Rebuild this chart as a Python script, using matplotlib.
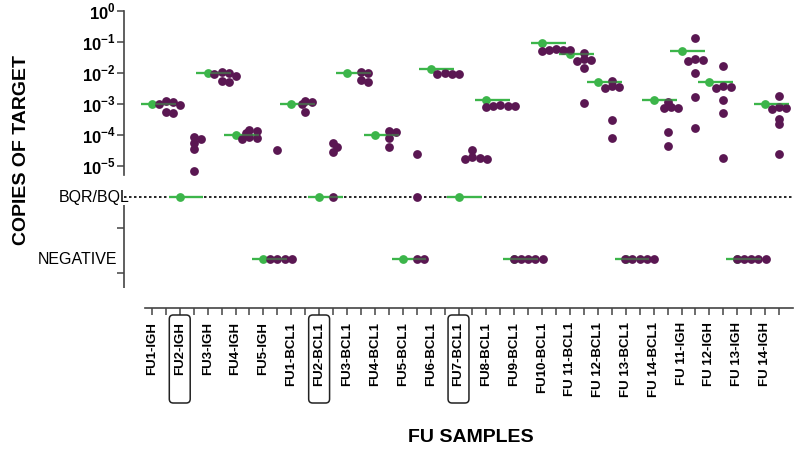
import numpy as np
import matplotlib
matplotlib.use("Agg")
import matplotlib.pyplot as plt
from matplotlib.patches import FancyBboxPatch
from matplotlib.ticker import NullLocator

plt.rcParams['font.family'] = ['Liberation Sans', 'DejaVu Sans']
plt.rcParams['mathtext.fontset'] = 'custom'
plt.rcParams['mathtext.rm'] = 'Liberation Sans'
plt.rcParams['mathtext.bf'] = 'Liberation Sans:bold'

# ---------------- data ----------------
samples = ["FU1-IGH", "FU2-IGH", "FU3-IGH", "FU4-IGH", "FU5-IGH",
           "FU1-BCL1", "FU2-BCL1", "FU3-BCL1", "FU4-BCL1", "FU5-BCL1",
           "FU6-BCL1", "FU7-BCL1", "FU8-BCL1", "FU9-BCL1", "FU10-BCL1",
           "FU 11-BCL1", "FU 12-BCL1", "FU 13-BCL1", "FU 14-BCL1",
           "FU 11-IGH", "FU 12-IGH", "FU 13-IGH", "FU 14-IGH"]
boxed = ["FU2-IGH", "FU2-BCL1", "FU7-BCL1"]

# reference value per sample (green)
green = [1.0e-3, 'BQL', 9.8e-3, 1.0e-4, 'NEG',
         1.0e-3, 'BQL', 9.8e-3, 1.0e-4, 'NEG',
         1.3e-2, 'BQL', 1.35e-3, 'NEG', 9.1e-2,
         4.0e-2, 5.2e-3, 'NEG', 1.3e-3,
         5.1e-2, 5.0e-3, 'NEG', 1.0e-3]

# replicate values per sample (purple)
purple = [
    [1.26e-3, 1.12e-3, 1.0e-3, 9.5e-4, 5.4e-4, 5.2e-4],
    [8.5e-5, 7.2e-5, 5.4e-5, 3.5e-5, 6.9e-6],
    [1.07e-2, 1.02e-2, 9.3e-3, 8.1e-3, 5.4e-3, 5.3e-3],
    [1.5e-4, 1.3e-4, 1.17e-4, 8.5e-5, 7.8e-5, 7.2e-5],
    [3.3e-5, 'NEG', 'NEG', 'NEG', 'NEG'],
    [1.29e-3, 1.2e-3, 9.8e-4, 5.6e-4],
    [5.6e-5, 4.2e-5, 2.9e-5, 'BQL'],
    [1.07e-2, 1.02e-2, 5.9e-3, 5.2e-3],
    [1.38e-4, 1.29e-4, 8.1e-5, 4.2e-5],
    [2.5e-5, 'BQL', 'NEG', 'NEG'],
    [1.0e-2, 9.5e-3, 9.3e-3, 9.1e-3],
    [3.3e-5, 2.0e-5, 1.8e-5, 1.65e-5, 1.65e-5],
    [9.3e-4, 8.9e-4, 8.7e-4, 8.5e-4, 8.3e-4],
    ['NEG', 'NEG', 'NEG', 'NEG', 'NEG'],
    [5.8e-2, 5.6e-2, 5.5e-2, 5.4e-2, 5.3e-2],
    [4.3e-2, 2.8e-2, 2.6e-2, 2.5e-2, 1.5e-2, 1.05e-3],
    [5.6e-3, 3.8e-3, 3.5e-3, 3.4e-3, 3.0e-4, 7.8e-5],
    ['NEG', 'NEG', 'NEG', 'NEG', 'NEG'],
    [1.17e-3, 8.3e-4, 7.6e-4, 7.4e-4, 1.23e-4, 4.5e-5],
    [1.38e-1, 2.8e-2, 2.6e-2, 2.5e-2, 9.8e-3, 1.74e-3, 1.66e-4],
    [1.7e-2, 3.8e-3, 3.5e-3, 3.2e-3, 1.35e-3, 5.2e-4, 1.8e-5],
    ['NEG', 'NEG', 'NEG', 'NEG', 'NEG'],
    [1.8e-3, 7.9e-4, 7.4e-4, 7.1e-4, 3.2e-4, 2.2e-4, 2.4e-5],
]

major_ticks = [1e0, 1e-1, 1e-2, 1e-3, 1e-4, 1e-5]
major_labels = [r'10$^{\mathbf{0}}$', r'10$^{\mathbf{-1}}$', r'10$^{\mathbf{-2}}$',
                r'10$^{\mathbf{-3}}$', r'10$^{\mathbf{-4}}$', r'10$^{\mathbf{-5}}$']
special_pos = {'BQL': 1e-6, 'NEG': 1e-8}
special_labels = {'BQL': 'BQR/BQL', 'NEG': 'NEGATIVE'}

GREEN = '#3cb54a'
PURPLE = '#5a1752'

def val(v):
    return special_pos[v] if isinstance(v, str) else v

# ---------------- figure ----------------
fig = plt.figure(figsize=(8, 4.5), dpi=100)
ax = fig.add_axes([124/800, 1-308/450, 669/800, 297/450])
ax.set_yscale('log')
ax.set_xlim(-2, 46)
ax.set_ylim(10**-9.58, 1.0)

for s in ['top', 'right']:
    ax.spines[s].set_visible(False)
ax.spines['left'].set_bounds(10**-5.29, 1.0)
ax.spines['bottom'].set_bounds(-0.5, 46)
for s in ['left', 'bottom']:
    ax.spines[s].set_color('#444444')
    ax.spines[s].set_linewidth(1.2)
# lower segment of the broken y axis
ax.plot([-2, -2], [10**-6.26, 10**-8.94], color='#444444', lw=1.2,
        clip_on=False, solid_capstyle='butt')

# y ticks
ax.yaxis.set_minor_locator(NullLocator())
yt = major_ticks + [1e-7, 10**-8.45]
ax.set_yticks(yt)
ax.set_yticklabels(major_labels + ['', ''], fontsize=12, fontweight='bold')
ax.tick_params(axis='y', length=5, width=1.1, color='#444444', pad=1)

# x ticks
pos_x = np.arange(46)
ax.set_xticks(pos_x)
xl = []
for k in pos_x:
    xl.append(samples[k // 2] if (k % 2 == 0 and k // 2 < len(samples)) else '')
ax.set_xticklabels(xl, rotation=90, fontsize=9.5, fontweight='bold')
ax.tick_params(axis='x', length=5, width=1.1, color='#444444', pad=5)

# special category labels
for key in ['BQL', 'NEG']:
    off = 4 if key == 'BQL' else -5
    ax.annotate(special_labels[key], xy=(0, special_pos[key]),
                xycoords=('axes fraction', 'data'), xytext=(off, 0),
                textcoords='offset points', ha='right', va='center',
                fontsize=11.5, annotation_clip=False)

# dotted BQL line
ax.plot([-2, 46], [special_pos['BQL']] * 2, ls=(0, (1.5, 1.5)), color='black',
        lw=1.2, zorder=1, clip_on=False)

# ---------- swarm helper in display space ----------
fig.canvas.draw()
px_per_x = ax.transData.transform((1, 1))[0] - ax.transData.transform((0, 1))[0]
d = 8.0
min_d = 0.6 * d
step = 0.45 * d

def swarm(yvals_disp):
    placed = []
    offs = []
    order = np.argsort(-np.asarray(yvals_disp))
    res = np.zeros(len(yvals_disp))
    cands = [0.0]
    for k in range(1, 12):
        cands += [k * step, -k * step]
    for idx in order:
        y = yvals_disp[idx]
        for c in cands:
            ok = all((c - px) ** 2 + (y - py) ** 2 >= min_d ** 2 for px, py in placed)
            if ok:
                placed.append((c, y))
                res[idx] = c
                break
    return res / px_per_x

for i, name in enumerate(samples):
    xg = 2 * i
    xp = 2 * i + 1
    gv = val(green[i])
    pv = np.array([val(v) for v in purple[i]], dtype=float)
    # green line below
    ax.plot([xg - 0.8, xg + 1.7], [gv, gv], color=GREEN, lw=1.6, zorder=2,
            solid_capstyle='butt')
    ax.scatter([xg], [gv], s=40, color=GREEN, zorder=3, linewidths=0)
    ydisp = ax.transData.transform(np.column_stack([np.full(len(pv), xp), pv]))[:, 1]
    offs = swarm(ydisp)
    ax.scatter(xp + offs, pv, s=40, color=PURPLE, zorder=4, linewidths=0)
    # translucent line over the dots (appears greyish over purple)
    ax.plot([xg - 0.8, xg + 1.7], [gv, gv], color=GREEN, lw=1.6, zorder=5,
            alpha=0.45, solid_capstyle='butt')

# boxes around selected labels
inv = fig.transFigure.inverted()
for name in boxed:
    i = samples.index(name)
    x0 = inv.transform(ax.transData.transform((2 * i - 0.75, 1)))[0]
    x1 = inv.transform(ax.transData.transform((2 * i + 0.75, 1)))[0]
    y0 = 1 - 403 / 450
    y1 = 1 - 315 / 450
    box = FancyBboxPatch((x0, y0), x1 - x0, y1 - y0,
                         boxstyle='round,pad=0,rounding_size=0.005',
                         mutation_aspect=800 / 450, transform=fig.transFigure,
                         fc='none', ec='#222222', lw=1.1)
    fig.patches.append(box)

fig.text(22 / 800, 1 - 150 / 450, 'COPIES OF TARGET', rotation=90, ha='center',
         va='center', fontsize=14, fontweight='bold')
fig.text(471 / 800, 1 - 437 / 450, 'FU SAMPLES', ha='center', va='center',
         fontsize=14, fontweight='bold')

fig.savefig('out.png', dpi=100)
